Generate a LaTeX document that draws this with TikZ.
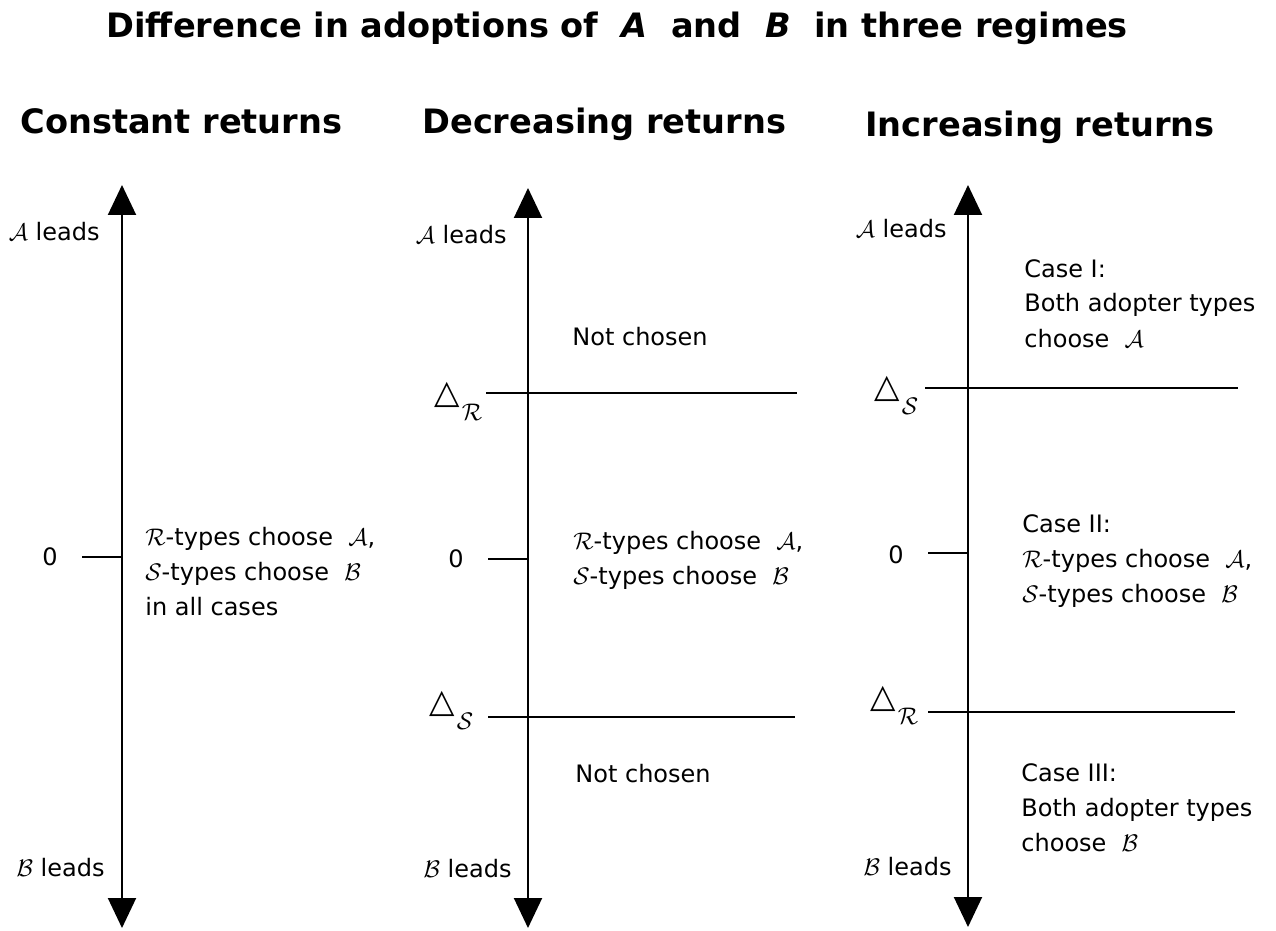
\documentclass[tikz,border=0pt]{standalone}
\usepackage{fontspec}
\setmainfont{DejaVu Sans}
\usepackage{amsmath}
\usetikzlibrary{arrows.meta, positioning}
\newcommand{\dsub}[1]{{\fontsize{16.5}{16.5}\selectfont\char"25B3}\kern1pt\raisebox{-8.5pt}{$\mathcal{#1}$}}

\begin{document}
\begin{tikzpicture}[x=0.5pt, y=-0.5pt,
      >={Triangle[length=15pt, width=14pt]},
      axis/.style={<->, line width=1pt},
      rule/.style={line width=1pt},
      head/.style={font=\fontsize{16.8}{19}\selectfont\bfseries, anchor=base west, inner sep=0pt},
      lbl/.style={font=\fontsize{12}{17.5}\selectfont, inner sep=0pt},
      txt/.style={lbl, anchor=base west, align=left},
      lead/.style={lbl, anchor=base east},
      delta/.style={font=\fontsize{12}{15}\selectfont, inner sep=0pt, anchor=base west}]
    \useasboundingbox (0,0) rectangle (1276,931);
    % headings
    \node[head] (title) at (106,38) {Difference in adoptions of \ \textit{A} \ and \ \textit{B} \ in three regimes};
    \node[head] (hconst) at (20,134) {Constant returns};
    \node[head] (hdecr)  at (422,134) {Decreasing returns};
    \node[head] (hincr)  at (865,137) {Increasing returns};
    % axes
    \coordinate (ctop) at (122,185);
    \coordinate (cbot) at (122,928);
    \coordinate (dtop) at (528,188);
    \coordinate (dbot) at (528,928);
    \coordinate (itop) at (968,185);
    \coordinate (ibot) at (968,927);
    \draw[axis] (cbot) -- (ctop);
    \draw[axis] (dbot) -- (dtop);
    \draw[axis] (ibot) -- (itop);
    % zero ticks
    \coordinate (czero) at (82,557);
    \coordinate (dzero) at (488,559);
    \coordinate (izero) at (928,553);
    \draw[rule] (czero) -- (czero -| ctop);
    \draw[rule] (dzero) -- (dzero -| dtop);
    \draw[rule] (izero) -- (izero -| itop);
    \node[lbl] (c0) at (50,557) {0};
    \node[lbl] (d0) at (456,559) {0};
    \node[lbl] (i0) at (896,555) {0};
    % leads
    \node[lead] (cA) at (100,241) {$\mathcal{A}$ leads};
    \node[lead] (cB) at (105,876) {$\mathcal{B}$ leads};
    \node[lead] (dA) at (507,243) {$\mathcal{A}$ leads};
    \node[lead] (dB) at (512,877) {$\mathcal{B}$ leads};
    \node[lead] (iA) at (947,237) {$\mathcal{A}$ leads};
    \node[lead] (iB) at (952,875) {$\mathcal{B}$ leads};
    % thresholds
    \node[delta] (dR) at (434,403) {\dsub{R}};
    \node[delta] (dS) at (429,712) {\dsub{S}};
    \node[delta] (iS) at (874,397) {\dsub{S}};
    \node[delta] (iR) at (870,707) {\dsub{R}};
    \coordinate (dRa) at (486,393);
    \coordinate (dRb) at (797,393);
    \coordinate (dSa) at (488,717);
    \coordinate (dSb) at (795,717);
    \coordinate (iSa) at (925,388);
    \coordinate (iSb) at (1238,388);
    \coordinate (iRa) at (928,712);
    \coordinate (iRb) at (1235,712);
    \draw[rule] (dRa) -- (dRb);
    \draw[rule] (dSa) -- (dSb);
    \draw[rule] (iSa) -- (iSb);
    \draw[rule] (iRa) -- (iRb);
    % region texts
    \node[txt] (cmid) at (145,615) {$\mathcal{R}$-types choose \ $\mathcal{A}$,\\$\mathcal{S}$-types choose \ $\mathcal{B}$\\in all cases};
    \node[txt] (dup)  at (572,345) {Not chosen};
    \node[txt] (dmid) at (573,584) {$\mathcal{R}$-types choose \ $\mathcal{A}$,\\$\mathcal{S}$-types choose \ $\mathcal{B}$};
    \node[txt] (dlow) at (575,782) {Not chosen};
    \node[txt] (case1) at (1024,347) {Case I:\\Both adopter types\\choose \ $\mathcal{A}$};
    \node[txt] (case2) at (1022,602) {Case II:\\$\mathcal{R}$-types choose \ $\mathcal{A}$,\\$\mathcal{S}$-types choose \ $\mathcal{B}$};
    \node[txt] (case3) at (1021,851) {Case III:\\Both adopter types\\choose \ $\mathcal{B}$};
\end{tikzpicture}
\end{document}
